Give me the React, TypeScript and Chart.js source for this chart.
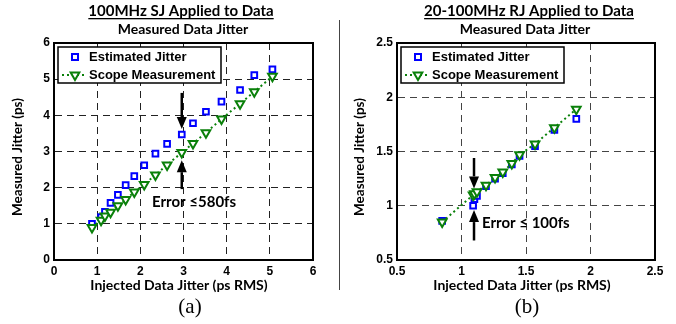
import React, { useEffect, useRef } from "react";
import { Chart, registerables } from "chart.js";
Chart.register(...registerables);

// ---------- Panel (a): 100MHz SJ ----------
const injectedA = [0.88, 1.09, 1.18, 1.31, 1.48, 1.66, 1.86, 2.09, 2.35, 2.62, 2.96, 3.22, 3.52, 3.88, 4.31, 4.64, 5.06];
const estimatedA = [1.0, 1.19, 1.33, 1.58, 1.8, 2.07, 2.32, 2.62, 2.94, 3.21, 3.47, 3.78, 4.1, 4.38, 4.7, 5.11, 5.27];
const scopeA = [0.9, 1.1, 1.22, 1.32, 1.5, 1.67, 1.88, 2.09, 2.35, 2.63, 2.97, 3.22, 3.52, 3.9, 4.32, 4.65, 5.08];
const xTicksA = [0, 1, 2, 3, 4, 5, 6];
const yTicksA = [0, 1, 2, 3, 4, 5, 6];
const titlesA = ["100MHz SJ Applied to Data", "Measured Data Jitter"];
const errorTextA = "Error \u2264580fs";
const errorPosA = [2.27, 1.6];
const arrowsA = [
  [2.96, 4.62, 3.62],
  [2.96, 1.96, 2.76],
];

// ---------- Panel (b): 20-100MHz RJ ----------
const injectedB = [0.85, 1.09, 1.1, 1.12, 1.19, 1.26, 1.32, 1.39, 1.45, 1.57, 1.72, 1.89];
const estimatedB = [0.86, 1.0, 1.06, 1.09, 1.18, 1.25, 1.3, 1.38, 1.46, 1.55, 1.7, 1.8];
const scopeB = [0.85, 1.1, 1.11, 1.13, 1.19, 1.26, 1.31, 1.39, 1.47, 1.57, 1.72, 1.89];
const xTicksB = [0.5, 1, 1.5, 2, 2.5];
const yTicksB = [0.5, 1, 1.5, 2, 2.5];
const titlesB = ["20-100MHz RJ Applied to Data", "Measured Data Jitter"];
const errorTextB = "Error \u2264 100fs";
const errorPosB = [1.159, 0.84];
const arrowsB = [
  [1.097, 1.44, 1.16],
  [1.097, 0.68, 0.96],
];

const seriesNames = ["Estimated Jitter", "Scope Measurement"];
const xAxisTitle = "Injected Data Jitter (ps RMS)";
const yAxisTitle = "Measured Jitter (ps)";
const captions = ["(a)", "(b)"];

const BLUE = "#0000ff";
const GREEN = "#0a800a";
const TICK_FONT = { family: "'Liberation Sans', Arial, sans-serif", weight: "bold" as const, size: 12 };

type PanelCfg = {
  pageLeft: number;
  axisW: number;
  padRight: number;
  injected: number[];
  estimated: number[];
  scope: number[];
  xTicks: number[];
  yTicks: number[];
  titles: string[];
  titleX: number;
  subX: number;
  xTitleX: number;
  yTitleX: number;
  gridColor: string;
  errorText: string;
  errorPos: number[];
  arrows: number[][];
};

const panels: PanelCfg[] = [
  {
    pageLeft: 0, axisW: 54, padRight: 25,
    injected: injectedA, estimated: estimatedA, scope: scopeA,
    xTicks: xTicksA, yTicks: yTicksA, titles: titlesA,
    titleX: 181, subX: 183, xTitleX: 179, yTitleX: 18, gridColor: "#222",
    errorText: errorTextA, errorPos: errorPosA, arrows: arrowsA,
  },
  {
    pageLeft: 338, axisW: 59, padRight: 21,
    injected: injectedB, estimated: estimatedB, scope: scopeB,
    xTicks: xTicksB, yTicks: yTicksB, titles: titlesB,
    titleX: 191, subX: 187, xTitleX: 184, yTitleX: 22, gridColor: "#444",
    errorText: errorTextB, errorPos: errorPosB, arrows: arrowsB,
  },
];

function downTriangle(ctx: CanvasRenderingContext2D, cx: number, cy: number, r: number) {
  ctx.beginPath();
  ctx.moveTo(cx, cy + r);
  ctx.lineTo(cx - 0.866 * r, cy - 0.5 * r);
  ctx.lineTo(cx + 0.866 * r, cy - 0.5 * r);
  ctx.closePath();
}

function drawArrow(ctx: CanvasRenderingContext2D, x: number, y0: number, y1: number) {
  const dir = y1 > y0 ? 1 : -1;
  const headL = 12;
  const headW = 5;
  ctx.strokeStyle = "#000";
  ctx.lineWidth = 2.5;
  ctx.beginPath();
  ctx.moveTo(x, y0);
  ctx.lineTo(x, y1 - dir * headL);
  ctx.stroke();
  ctx.fillStyle = "#000";
  ctx.beginPath();
  ctx.moveTo(x, y1);
  ctx.lineTo(x - headW, y1 - dir * headL);
  ctx.lineTo(x + headW, y1 - dir * headL);
  ctx.closePath();
  ctx.fill();
}

function makeDecor(p: PanelCfg) {
  return {
    id: "decor",
    afterDraw(chart: any) {
      const { ctx, chartArea: a } = chart;
      const xs = chart.scales.x;
      const ys = chart.scales.y;
      ctx.save();
      // frame
      ctx.setLineDash([]);
      ctx.strokeStyle = "#000";
      ctx.lineWidth = 2;
      ctx.strokeRect(a.left, a.top, a.right - a.left, a.bottom - a.top);

      // titles
      ctx.fillStyle = "#000";
      ctx.textAlign = "center";
      ctx.textBaseline = "middle";
      ctx.font = "bold 15px Lato";
      ctx.fillText(p.titles[0], p.titleX, 11);
      const tw = ctx.measureText(p.titles[0]).width;
      ctx.fillRect(p.titleX - tw / 2, 18, tw, 1.3);
      ctx.font = "bold 14px Lato";
      ctx.fillText(p.titles[1], p.subX, 29);

      // axis titles
      ctx.font = "bold 14px Lato";
      ctx.fillText(xAxisTitle, p.xTitleX, 285);
      ctx.save();
      ctx.translate(p.yTitleX, 157);
      ctx.rotate(-Math.PI / 2);
      ctx.font = "bold 13.5px Lato";
      ctx.fillText(yAxisTitle, 0, 0);
      ctx.restore();

      // arrows
      for (const [x, y0, y1] of p.arrows) {
        drawArrow(ctx, xs.getPixelForValue(x), ys.getPixelForValue(y0), ys.getPixelForValue(y1));
      }
      // error label
      ctx.fillStyle = "#000";
      ctx.textAlign = "left";
      ctx.font = "bold 15px Lato";
      ctx.fillText(p.errorText, xs.getPixelForValue(p.errorPos[0]), ys.getPixelForValue(p.errorPos[1]));

      // legend
      const bx = a.left + 4;
      const by = a.top + 4;
      const bw = 163;
      const bh = 36;
      ctx.fillStyle = "#fff";
      ctx.fillRect(bx, by, bw, bh);
      ctx.strokeStyle = "#000";
      ctx.lineWidth = 1.5;
      ctx.strokeRect(bx, by, bw, bh);
      const r1 = by + 10;
      const r2 = by + 28;
      // estimated marker
      ctx.strokeStyle = BLUE;
      ctx.lineWidth = 2;
      ctx.strokeRect(bx + 17 - 3, r1 - 3, 6, 6);
      // scope line + marker
      ctx.strokeStyle = GREEN;
      ctx.lineWidth = 2;
      ctx.setLineDash([2, 3]);
      ctx.beginPath();
      ctx.moveTo(bx + 4, r2);
      ctx.lineTo(bx + 29, r2);
      ctx.stroke();
      ctx.setLineDash([]);
      downTriangle(ctx, bx + 17, r2, 5);
      ctx.fillStyle = "#fff";
      ctx.fill();
      ctx.stroke();
      // legend text
      ctx.fillStyle = "#000";
      ctx.font = "bold 13px 'Liberation Sans', Arial, sans-serif";
      ctx.textAlign = "left";
      ctx.fillText(seriesNames[0], bx + 31, r1 + 0.5);
      ctx.fillText(seriesNames[1], bx + 31, r2 + 0.5);
      ctx.restore();
    },
  };
}

function Panel({ p }: { p: PanelCfg }) {
  const ref = useRef<HTMLCanvasElement>(null);
  useEffect(() => {
    const estPts = p.injected.map((x, i) => ({ x, y: p.estimated[i] }));
    const scoPts = p.injected.map((x, i) => ({ x, y: p.scope[i] }));
    const chart = new Chart(ref.current!, {
      type: "scatter",
      data: {
        datasets: [
          {
            label: seriesNames[0],
            data: estPts,
            order: 1,
            showLine: false,
            pointStyle: "rect",
            pointRadius: 4,
            pointBorderWidth: 2,
            pointBorderColor: BLUE,
            pointBackgroundColor: "#fff",
            borderColor: BLUE,
            backgroundColor: "#fff",
          },
          {
            label: seriesNames[1],
            data: scoPts,
            order: 0,
            showLine: true,
            borderColor: GREEN,
            borderWidth: 2,
            borderDash: [2, 3],
            pointStyle: "triangle",
            pointRotation: 180,
            pointRadius: 5,
            pointBorderWidth: 2,
            pointBorderColor: GREEN,
            pointBackgroundColor: "#fff",
            backgroundColor: "#fff",
          },
        ],
      },
      options: {
        responsive: false,
        animation: false,
        devicePixelRatio: 1,
        layout: { padding: { left: 0, right: p.padRight, top: 43, bottom: 0 } },
        plugins: { legend: { display: false }, tooltip: { enabled: false }, title: { display: false } },
        scales: {
          x: {
            type: "linear",
            min: p.xTicks[0],
            max: p.xTicks[p.xTicks.length - 1],
            afterBuildTicks: (s: any) => {
              s.ticks = p.xTicks.map((v) => ({ value: v }));
            },
            afterFit: (s: any) => {
              s.height = 64;
            },
            ticks: {
              font: TICK_FONT, color: "#000", padding: 4, autoSkip: false, maxRotation: 0,
              callback: (v: any) => String(v),
            },
            grid: { color: p.gridColor, lineWidth: 1, drawTicks: false },
            border: { display: true, color: "#000", width: 2, dash: [7, 5] },
          },
          y: {
            type: "linear",
            min: p.yTicks[0],
            max: p.yTicks[p.yTicks.length - 1],
            afterBuildTicks: (s: any) => {
              s.ticks = p.yTicks.map((v) => ({ value: v }));
            },
            afterFit: (s: any) => {
              s.width = p.axisW;
            },
            ticks: { font: TICK_FONT, color: "#000", padding: 4, autoSkip: false, callback: (v: any) => String(v) },
            grid: { color: p.gridColor, lineWidth: 1, drawTicks: false },
            border: { display: true, color: "#000", width: 2, dash: [7, 5] },
          },
        },
      },
      plugins: [makeDecor(p)],
    } as any);
    return () => chart.destroy();
  }, []);
  return (
    <canvas
      ref={ref}
      width={338}
      height={324}
      style={{ position: "absolute", left: p.pageLeft, top: 0, width: 338, height: 324 }}
    />
  );
}

export default function App() {
  return (
    <div style={{ position: "fixed", left: 0, top: 0, width: 676, height: 324, background: "#fff", overflow: "hidden" }}>
      <Panel p={panels[0]} />
      <Panel p={panels[1]} />
      <div style={{ position: "absolute", left: 339, top: 20, width: 1, height: 270, background: "#444" }} />
      <div
        style={{
          position: "absolute", left: 150, width: 80, top: 294, textAlign: "center",
          font: "21px 'Liberation Serif', 'Times New Roman', serif", color: "#000",
        }}
      >
        {captions[0]}
      </div>
      <div
        style={{
          position: "absolute", left: 487, width: 80, top: 294, textAlign: "center",
          font: "21px 'Liberation Serif', 'Times New Roman', serif", color: "#000",
        }}
      >
        {captions[1]}
      </div>
    </div>
  );
}
